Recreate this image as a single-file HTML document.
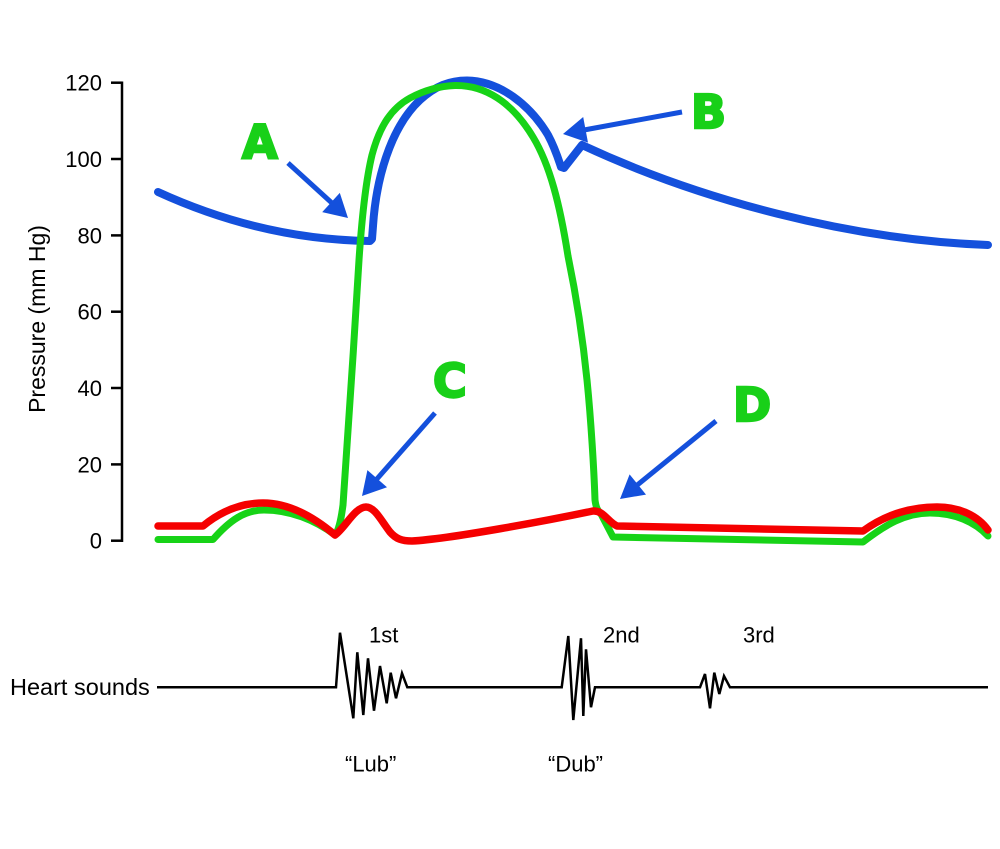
<!DOCTYPE html>
<html><head><meta charset="utf-8"><style>
html,body{margin:0;padding:0;background:#fff;}
svg{display:block;}
text{font-family:"Liberation Sans",Arial,sans-serif;fill:#000;}
.L{font-family:"DejaVu Sans","Liberation Sans",sans-serif;font-weight:bold;font-size:46px;fill:#18d018;stroke:#18d018;stroke-width:2.4;stroke-linejoin:miter;}
</style></head><body>
<svg width="1000" height="849" viewBox="0 0 1000 849" xmlns="http://www.w3.org/2000/svg">
<rect width="1000" height="849" fill="#fff"/>
<!-- axis -->
<g stroke="#000" stroke-width="2.5" fill="none">
<line x1="122" y1="81.5" x2="122" y2="542"/>
<line x1="111" y1="82.7" x2="122" y2="82.7"/>
<line x1="111" y1="159" x2="122" y2="159"/>
<line x1="111" y1="235.4" x2="122" y2="235.4"/>
<line x1="111" y1="311.7" x2="122" y2="311.7"/>
<line x1="111" y1="388" x2="122" y2="388"/>
<line x1="111" y1="464.4" x2="122" y2="464.4"/>
<line x1="111" y1="540.7" x2="122" y2="540.7"/>
</g>
<g font-size="22" text-anchor="end">
<text x="102" y="90.7">120</text>
<text x="102" y="167">100</text>
<text x="102" y="243.4">80</text>
<text x="102" y="319.7">60</text>
<text x="102" y="396">40</text>
<text x="102" y="472.4">20</text>
<text x="102" y="548.7">0</text>
</g>
<text font-size="23" text-anchor="middle" transform="translate(45,319) rotate(-90)">Pressure (mm Hg)</text>

<!-- blue aortic -->
<path d="M158,192 C230,225 300,240 370,241 L372,239 L373,226 C376,180 390,128 420,100 C435,86 450,80.5 467,80.5 C500,81 530,105 548,135 C555,148 558,158 561,167 L564,168 L582,145 C700,200 850,240 988,245" fill="none" stroke="#1450dc" stroke-width="8" stroke-linecap="round" stroke-linejoin="round"/>

<!-- green LV -->
<path d="M158,539.5 L213,539.5 C230,520 245,510 264,510 C290,510 315,520 335,535 C339,530 341,520 343,505 C348,440 354,340 359,260 C362,215 366,180 372,155 C380,125 392,108 410,98 C425,90 440,86 455,85.5 C485,85 512,102 533,137 C550,165 560,205 568,256 C575,290 582,330 587,380 C591,420 594,470 595,500 C596,508 598,511 601,514 L613,537 L863,542 C885,525 905,513 930,513 C955,513 975,522 988,536" fill="none" stroke="#17d317" stroke-width="7" stroke-linecap="round" stroke-linejoin="round"/>

<!-- red atrial -->
<path d="M158,526 L203,526 C220,512 240,503 263,503 C290,503 315,518 335,535 C345,528 355,507 366,507 C375,507 382,522 390,532 C396,539 402,541 412,541 C450,539 550,520 593,511 C603,510 608,522 617,526 L863,531 C885,515 910,507 937,507 C960,507 978,516 988,530" fill="none" stroke="#f50000" stroke-width="7.5" stroke-linecap="round" stroke-linejoin="round"/>

<!-- arrows -->
<g stroke="#1450dc" stroke-width="5" fill="#1450dc">
<line x1="288" y1="163" x2="333" y2="204"/>
<polygon points="348,218 322.2,212.1 339.8,192.9" stroke="none"/>
<line x1="682" y1="112" x2="584" y2="130"/>
<polygon points="563,134 583.2,117 588,142.6" stroke="none"/>
<line x1="435" y1="413" x2="376" y2="480"/>
<polygon points="362,496 367.4,470.1 387,487.3" stroke="none"/>
<line x1="716" y1="421" x2="636" y2="486"/>
<polygon points="620,499 629.6,474.4 646,494.6" stroke="none"/>
</g>

<text class="L" x="242" y="158">A</text>
<text class="L" x="691" y="128">B</text>
<text class="L" x="433" y="397">C</text>
<text class="L" x="733" y="421">D</text>

<!-- heart sounds -->
<text font-size="23.5" x="10" y="695">Heart sounds</text>
<polyline fill="none" stroke="#000" stroke-width="2.5" stroke-linejoin="miter" points="157,687.3 336,687.3 340,632.7 353.3,718.3 357.3,652.3 363.3,715 368,658.3 374,710.7 380,666 386.7,703.3 390.7,672.7 396,698.3 402,673.3 407.3,687.3 561.7,687.3 568.3,636 573.3,720 581,638.3 583.3,716 586,649.3 591,707.3 595,687.3 700,687.3 705,674 710,708.3 714.3,672.7 719.3,694 724,676 730,687.3 988,687.3"/>
<g font-size="22">
<text x="369" y="642.7">1st</text>
<text x="603" y="642.7">2nd</text>
<text x="743" y="642.7">3rd</text>
<text x="345" y="771.7">“Lub”</text>
<text x="548" y="771.7">“Dub”</text>
</g>
</svg>
</body></html>
